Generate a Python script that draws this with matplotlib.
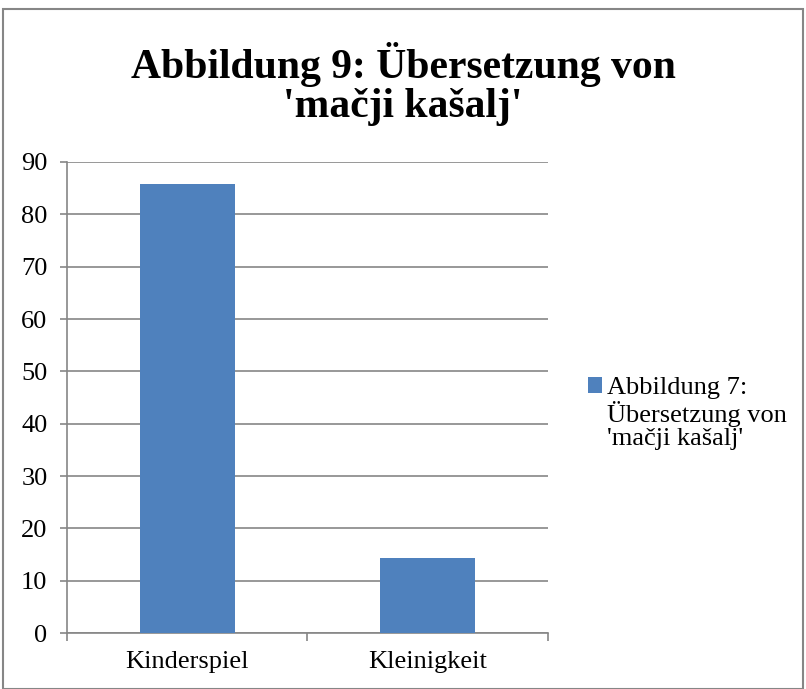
import matplotlib.pyplot as plt
from matplotlib.patches import Rectangle

plt.rcParams['font.family'] = ['Liberation Serif', 'DejaVu Serif']

categories = ["Kinderspiel", "Kleinigkeit"]
values = [85.71, 14.29]
series_label = "Abbildung 7:\nÜbersetzung von\n'mačji kašalj'"
title = "Abbildung 9: Übersetzung von\n'mačji kašalj'"

fig = plt.figure(figsize=(8.06, 6.89), dpi=100)
fig.patches.append(Rectangle((0.004, 0.0), 0.992, 0.987, transform=fig.transFigure,
                             fill=False, edgecolor='#868686', linewidth=1.5))

ax = fig.add_axes([0.083, 0.081, 0.597, 0.684])
x = list(range(len(categories)))
ax.bar(x, values, width=0.395, color='#4F81BD', zorder=3, label=series_label)

ax.set_xlim(-0.5, 1.5)
ax.set_ylim(0, 90)
ax.set_yticks(range(0, 91, 10))
ax.yaxis.grid(True, color='#868686', linewidth=1.2)
ax.set_axisbelow(True)

for s in ['top', 'right']:
    ax.spines[s].set_visible(False)
for s in ['left', 'bottom']:
    ax.spines[s].set_color('#868686')
    ax.spines[s].set_linewidth(1.2)

# category boundaries get the tick marks, names sit in between
ax.set_xticks([-0.5, 0.5, 1.5])
ax.set_xticklabels([])
ax.set_xticks(x, minor=True)
ax.set_xticklabels(categories, minor=True)
ax.tick_params(axis='x', which='major', length=6, color='#868686', width=1.2)
ax.tick_params(axis='x', which='minor', length=0, labelsize=19, pad=13)
ax.tick_params(axis='y', length=5, color='#868686', width=1.2, labelsize=19, pad=9)

fig.text(0.5, 0.878, title, ha='center', va='center', fontsize=30,
         fontweight='bold', linespacing=1.02)

leg = ax.legend(loc='center left', bbox_to_anchor=(0.7295, 0.40), bbox_transform=fig.transFigure,
                frameon=False, fontsize=19, handlelength=0.53, handleheight=0.53,
                handletextpad=0.19, borderpad=0, borderaxespad=0)
leg.get_texts()[0].set_linespacing(1.06)
# put the legend swatch next to the first line, like Excel does
for col in leg._legend_handle_box.get_children():
    for item in col.get_children():
        item.align = 'top'

plt.savefig("out.png", dpi=100)
